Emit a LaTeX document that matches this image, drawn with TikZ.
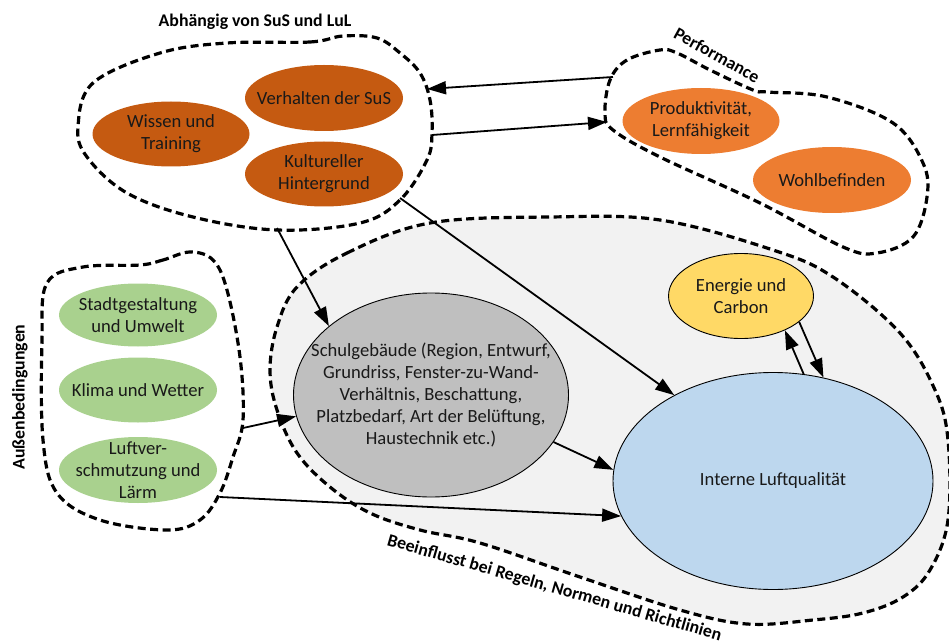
\documentclass[tikz,border=0pt]{standalone}
\usepackage{fontspec}
\setmainfont{Carlito}
\usetikzlibrary{arrows.meta,shapes.geometric}
\definecolor{dorange}{HTML}{C55A11}
\definecolor{lorange}{HTML}{ED7D31}
\definecolor{lgreen}{HTML}{A9D18E}
\definecolor{mgrey}{HTML}{BFBFBF}
\definecolor{lblue}{HTML}{BDD7EE}
\definecolor{lyellow}{HTML}{FFD966}
\definecolor{regiongrey}{HTML}{F2F2F2}
\begin{document}
\begin{tikzpicture}[x=1pt,y=-1pt,
  blob/.style={draw=black, line width=3.2pt, dash pattern=on 8pt off 4.5pt, line join=round},
  ell/.style={ellipse, inner xsep=-45pt, inner ysep=-30pt, align=center, font=\fontsize{18.6}{22}\selectfont, text=black!90},
  outl/.style={draw=black, line width=0.9pt},
  conn/.style={line width=1.8pt, -{Triangle[length=19pt,width=13pt]}},
  lbl/.style={font=\fontsize{17.8}{20}\selectfont\bfseries, inner sep=0pt}]
\useasboundingbox (0,0) rectangle (949,644);

% grey region
\path[blob, fill=regiongrey] plot[smooth cycle, tension=0.6] coordinates {
 (297,287) (347,253) (430,223) (550,217) (660,220) (773,250) (833,277)
 (900,333) (935,390) (948,440) (948,520) (930,570) (903,597) (863,613)
 (813,620) (747,624) (680,610) (580,577) (480,543) (420,530) (370,513)
 (330,487) (297,453) (277,410) (270,370) (277,327)};

% top-left blob
\path[blob] plot[smooth cycle, tension=0.6] coordinates {
 (227,43) (310,42) (343,36) (377,38) (400,53) (420,73) (430,100) (432,133)
 (427,160) (400,200) (360,223) (277,230) (193,217) (127,193) (87,157)
 (78,127) (93,83) (160,53)};

% performance blob
\path[blob] plot[smooth cycle, tension=0.6] coordinates {
 (660,50) (627,60) (610,80) (605,113) (613,130) (660,157) (760,203)
 (843,247) (877,253) (913,237) (927,197) (923,163) (893,123) (827,97)
 (767,92) (753,90) (710,70) (677,53)};

% left blob
\path[blob] plot[smooth cycle, tension=0.6] coordinates {
 (190,252) (163,260) (140,265) (83,267) (47,283) (42,340) (43,440)
 (57,493) (100,520) (167,530) (200,520) (220,493) (233,457) (243,420)
 (240,357) (227,290) (213,260)};

% labels
\node[lbl] (tAbh) at (255,22) {Abhängig von SuS und LuL};
\node[lbl, rotate=-29] (tPerf) at (717,55) {Performance};
\node[lbl, rotate=90] (tAuss) at (20,397) {Außenbedingungen};
\node[lbl, rotate=-16, anchor=base] (tBeein) at (553,593) {Beeinflusst bei Regeln, Normen und Richtlinien};

% nodes
\node[ell, fill=dorange, minimum width=157pt, minimum height=65pt] (wissen) at (171,134) {Wissen und\\Training};
\node[ell, fill=dorange, minimum width=158pt, minimum height=66pt] (verh) at (324,98) {Verhalten der SuS};
\node[ell, fill=dorange, minimum width=158pt, minimum height=65pt] (kult) at (324,174) {Kultureller\\Hintergrund};
\node[ell, fill=lorange, minimum width=157pt, minimum height=66pt] (prod) at (701,121) {Produktivität,\\Lernfähigkeit};
\node[ell, fill=lorange, minimum width=158pt, minimum height=66pt] (wohl) at (832,180) {Wohlbefinden};
\node[ell, fill=lgreen, minimum width=158pt, minimum height=63pt] (stadt) at (138,315) {Stadtgestaltung\\und Umwelt};
\node[ell, fill=lgreen, minimum width=158pt, minimum height=65pt] (klima) at (138,390) {Klima und Wetter};
\node[ell, fill=lgreen, minimum width=158pt, minimum height=66pt] (luftv) at (138,470) {Luftver-\\schmutzung und\\Lärm};
\node[ell, outl, fill=mgrey, minimum width=275pt, minimum height=204pt] (schul) at (431,395)
  {Schulgebäude (Region, Entwurf,\\Grundriss, Fenster-zu-Wand-\\Verhältnis, Beschattung,\\Platzbedarf, Art der Belüftung,\\Haustechnik etc.)};
\node[ell, outl, fill=lyellow, minimum width=145pt, minimum height=85pt] (energie) at (741,296) {Energie und\\Carbon};
\node[ell, outl, fill=lblue, minimum width=320pt, minimum height=217pt] (luft) at (773,481) {Interne Luftqualität};

% blob coordinates
\coordinate (perfL1) at (613,77);
\coordinate (abhR1) at (427,89);
\coordinate (abhR2) at (432,135);
\coordinate (perfL2) at (607,122);
\coordinate (abhB1) at (277,228);
\coordinate (abhB2) at (400,198);
\coordinate (ausR1) at (243,428);
\coordinate (ausR2) at (220,497);

% connectors
\draw[conn] (perfL1) -- (abhR1);
\draw[conn] (abhR2) -- (perfL2);
\draw[conn] (abhB1) -- (schul.146.6);
\draw[conn] (abhB2) -- (luft.139.6);
\draw[conn] (ausR1) -- (schul.189.7);
\draw[conn] (ausR2) -- (luft.193.4);
\draw[conn] (schul.-21) -- (luft.176);
\draw[conn] (luft.74.2) -- (energie.-38.3);
\draw[conn] (energie.-24.9) -- (luft.64.8);
\end{tikzpicture}
\end{document}
